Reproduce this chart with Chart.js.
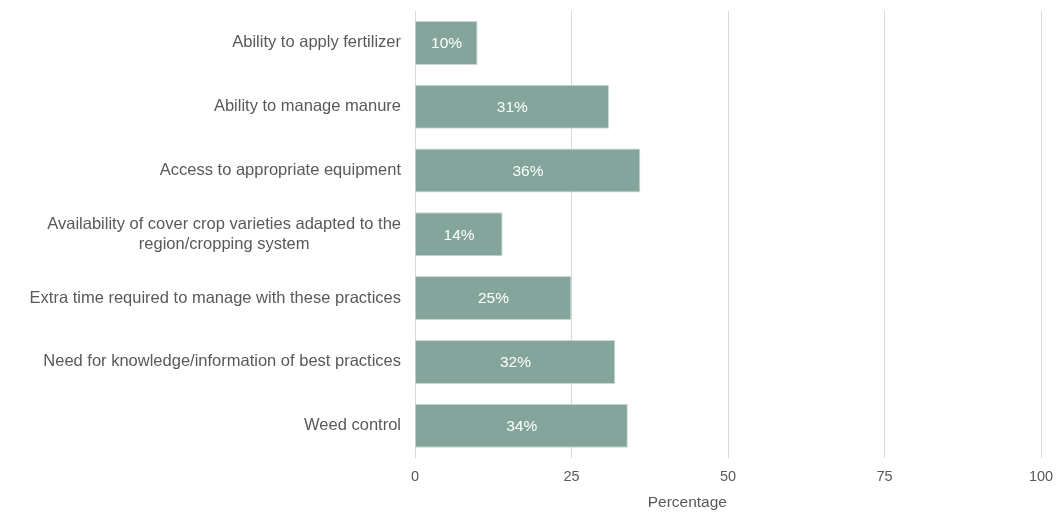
<!DOCTYPE html>
<html>
<head>
<meta charset="utf-8">
<script src="https://cdn.jsdelivr.net/npm/chart.js@4"></script>
<style>
  body { margin: 0; background: #fff; }
</style>
</head>
<body>
<canvas id="barriersChart" width="1056" height="512"></canvas>
<script>
const categories = [
  ["Ability to apply fertilizer"],
  ["Ability to manage manure"],
  ["Access to appropriate equipment"],
  ["Availability of cover crop varieties adapted to the", "region/cropping system"],
  ["Extra time required to manage with these practices"],
  ["Need for knowledge/information of best practices"],
  ["Weed control"]
];
const percentages = [10, 31, 36, 14, 25, 32, 34];
const xTicks = [0, 25, 50, 75, 100];

const FONT = "'Liberation Sans', Arial, sans-serif";
const TEXT = "#595959";

// category names on the left, each line centred on the widest line
const categoryLabels = {
  id: "categoryLabels",
  afterDraw(chart) {
    const ctx = chart.ctx;
    const y = chart.scales.y;
    const right = chart.chartArea.left - 14;
    ctx.save();
    ctx.font = "16.5px " + FONT;
    ctx.fillStyle = TEXT;
    ctx.textBaseline = "middle";
    ctx.textAlign = "center";
    categories.forEach((lines, i) => {
      const widest = Math.max(...lines.map(l => ctx.measureText(l).width));
      const cx = right - widest / 2;
      const cy = y.getPixelForValue(i);
      const lh = 20;
      lines.forEach((line, j) => {
        ctx.fillText(line, cx, cy + (j - (lines.length - 1) / 2) * lh);
      });
    });
    ctx.restore();
  }
};

// value labels in the middle of each bar
const barValues = {
  id: "barValues",
  afterDatasetsDraw(chart) {
    const ctx = chart.ctx;
    const meta = chart.getDatasetMeta(0);
    ctx.save();
    ctx.font = "15.5px " + FONT;
    ctx.fillStyle = "#ffffff";
    ctx.textAlign = "center";
    ctx.textBaseline = "middle";
    meta.data.forEach((bar, i) => {
      ctx.fillText(percentages[i] + "%", (bar.base + bar.x) / 2, bar.y + 1);
    });
    ctx.restore();
  }
};

// axis title under the tick labels
const axisTitle = {
  id: "axisTitle",
  afterDraw(chart) {
    const ctx = chart.ctx;
    const a = chart.chartArea;
    ctx.save();
    ctx.font = "15.5px " + FONT;
    ctx.fillStyle = TEXT;
    ctx.textAlign = "center";
    ctx.textBaseline = "middle";
    ctx.fillText("Percentage", a.left + (a.right - a.left) * 0.435, 503);
    ctx.restore();
  }
};

new Chart(document.getElementById("barriersChart"), {
  type: "bar",
  data: {
    labels: categories,
    datasets: [{
      data: percentages,
      backgroundColor: "#84a59c",
      borderColor: "#c9d8d3",
      borderWidth: 1,
      borderSkipped: "left",
      categoryPercentage: 0.69,
      barPercentage: 1
    }]
  },
  options: {
    indexAxis: "y",
    responsive: false,
    animation: false,
    layout: { padding: { top: 11, right: 0, bottom: 15, left: 0 } },
    plugins: {
      legend: { display: false },
      tooltip: { enabled: false }
    },
    scales: {
      x: {
        min: 0,
        max: 100,
        afterBuildTicks(scale) {
          scale.ticks = xTicks.map(v => ({ value: v }));
        },
        afterFit(scale) { scale.paddingRight = 15; },
        grid: { color: "#d9d9d9", lineWidth: 1, drawTicks: false },
        border: { display: false },
        ticks: {
          color: TEXT,
          font: { family: FONT, size: 14.5 },
          padding: 11,
          maxRotation: 0
        }
      },
      y: {
        grid: { display: false },
        border: { display: false },
        ticks: { display: false },
        afterFit(scale) { scale.width = 415; }
      }
    }
  },
  plugins: [categoryLabels, barValues, axisTitle]
});
</script>
</body>
</html>
